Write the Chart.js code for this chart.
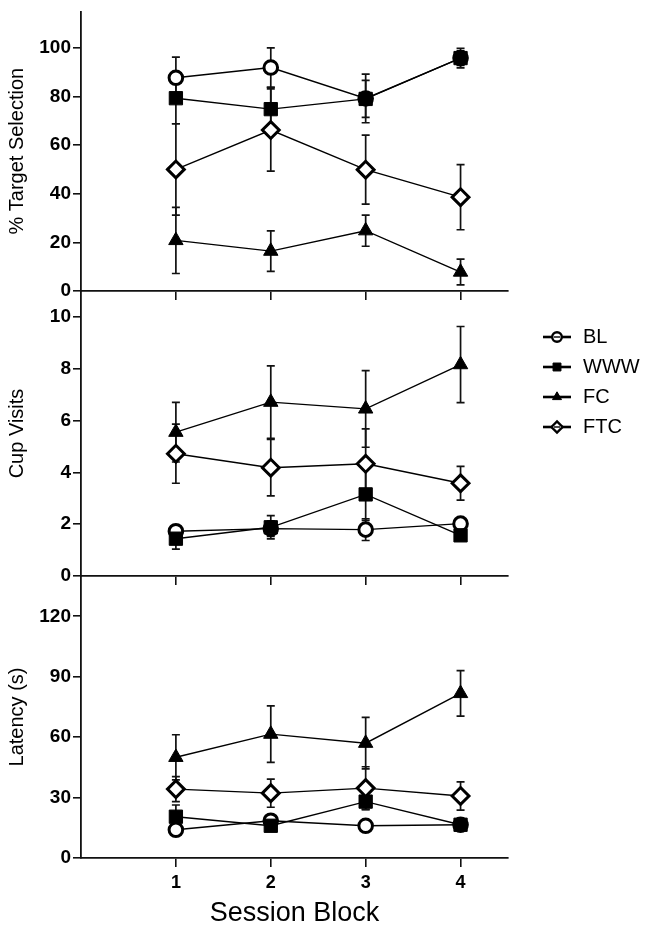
<!DOCTYPE html>
<html><head><meta charset="utf-8">
<script src="https://cdn.jsdelivr.net/npm/chart.js@4.4.1/dist/chart.umd.min.js"></script>
<style>
html,body{margin:0;padding:0;background:#fff;}
#wrap{position:relative;width:658px;height:932px;overflow:hidden;}
canvas{position:absolute;left:0;top:0;}
</style></head><body>
<div id="wrap">
<canvas id="c1" width="658" height="932"></canvas>
<canvas id="c2" width="658" height="932"></canvas>
<canvas id="c3" width="658" height="932"></canvas>
</div>
<script>
// ---------- DATA ----------
const categories = [1, 2, 3, 4];
const seriesNames = ['BL', 'WWW', 'FC', 'FTC'];
const xTickLabels = ['1', '2', '3', '4'];

// % Target Selection
const selBL = [87.7, 91.9, 79.2, 95.8];
const selBLErr = [8.5, 8.1, 10.0, 4.0];
const selWWW = [79.3, 74.8, 79.0, 95.8];
const selWWWErr = [10.5, 9.0, 7.6, 3.0];
const selFC = [20.8, 16.4, 24.8, 7.8];
const selFCErr = [13.6, 8.3, 6.4, 5.3];
const selFTC = [50.0, 66.2, 49.9, 38.6];
const selFTCErr = [18.8, 16.9, 14.2, 13.4];
const selTicks = [0, 20, 40, 60, 80, 100];

// Cup Visits
const cupBL = [1.73, 1.83, 1.79, 2.02];
const cupBLErr = [0.15, 0.3, 0.42, 0.15];
const cupWWW = [1.44, 1.88, 3.15, 1.57];
const cupWWWErr = [0.4, 0.45, 1.0, 0.15];
const cupFC = [5.55, 6.71, 6.45, 8.16];
const cupFCErr = [1.15, 1.4, 1.48, 1.47];
const cupFTC = [4.72, 4.18, 4.33, 3.58];
const cupFTCErr = [1.14, 1.09, 1.35, 0.65];
const cupTicks = [0, 2, 4, 6, 8, 10];

// Latency (s)
const latBL = [14.0, 18.5, 16.0, 16.5];
const latBLErr = [2.0, 2.0, 2.0, 1.5];
const latWWW = [20.5, 16.0, 28.0, 16.5];
const latWWWErr = [5.8, 2.0, 4.0, 2.0];
const latFC = [50.0, 61.5, 57.0, 81.7];
const latFCErr = [11.2, 14.0, 12.8, 11.3];
const latFTC = [34.2, 32.2, 34.7, 30.8];
const latFTCErr = [6.2, 7.0, 10.6, 7.0];
const latTicks = [0, 30, 60, 90, 120];

// ---------- STYLES ----------
const FONT = "'Liberation Sans', Arial, Helvetica, sans-serif";
const INK = '#111';
const styles = [
  {pointStyle: 'circle', radius: 6.8, bg: '#fff', bw: 3, order: 4, lr: 4.8},
  {pointStyle: 'rect', radius: 9.4, bg: '#000', bw: 1, order: 3, lr: 5.6},
  {pointStyle: 'triangle', radius: 8.3, bg: '#000', bw: 1, order: 2, lr: 5.2},
  {pointStyle: 'rectRot', radius: 8.4, bg: '#fff', bw: 3, order: 1, lr: 5.6}
];

function makeDatasets(vals, errs) {
  return vals.map((arr, s) => ({
    label: seriesNames[s],
    data: arr.map((v, i) => ({x: categories[i], y: v})),
    errors: errs[s],
    borderColor: '#000',
    borderWidth: 1.4,
    pointStyle: styles[s].pointStyle,
    pointRadius: styles[s].radius,
    pointHoverRadius: styles[s].radius,
    pointBackgroundColor: styles[s].bg,
    pointBorderColor: '#000',
    pointBorderWidth: styles[s].bw,
    legendRadius: styles[s].lr,
    order: styles[s].order,
    fill: false,
    tension: 0
  }));
}

const errorBars = {
  id: 'errorBars',
  beforeDatasetsDraw(chart) {
    const ctx = chart.ctx;
    const xs = chart.scales.x, ys = chart.scales.y;
    ctx.save();
    ctx.strokeStyle = INK;
    ctx.lineWidth = 1.7;
    chart.data.datasets.forEach(ds => {
      ds.data.forEach((p, i) => {
        const e = ds.errors[i];
        const x = xs.getPixelForValue(p.x);
        const yt = ys.getPixelForValue(p.y + e);
        const yb = ys.getPixelForValue(p.y - e);
        ctx.beginPath();
        ctx.moveTo(x, yt); ctx.lineTo(x, yb);
        ctx.moveTo(x - 4, yt); ctx.lineTo(x + 4, yt);
        ctx.moveTo(x - 4, yb); ctx.lineTo(x + 4, yb);
        ctx.stroke();
      });
    });
    ctx.restore();
  }
};

const sideLegend = {
  id: 'sideLegend',
  afterDraw(chart) {
    if (!chart.options.plugins.sideLegend || !chart.options.plugins.sideLegend.show) return;
    const ctx = chart.ctx;
    const x0 = 543, x1 = 571, xm = 557, tx = 583, y0 = 337, dy = 30;
    const dsets = chart.data.datasets;
    ctx.save();
    dsets.forEach((ds, i) => {
      const y = y0 + i * dy;
      ctx.strokeStyle = '#000';
      ctx.lineWidth = 2.6;
      ctx.beginPath(); ctx.moveTo(x0, y); ctx.lineTo(x1, y); ctx.stroke();
      ctx.fillStyle = ds.pointBackgroundColor;
      ctx.strokeStyle = '#000';
      ctx.lineWidth = ds.pointBorderWidth > 1 ? 2.4 : 1;
      Chart.helpers.drawPoint(ctx, {pointStyle: ds.pointStyle, radius: ds.legendRadius, rotation: 0, borderWidth: ctx.lineWidth}, xm, y);
      if (ds.pointStyle === 'circle' || ds.pointStyle === 'rectRot') {
        ctx.lineWidth = 1.4;
        ctx.beginPath(); ctx.moveTo(xm - 3, y); ctx.lineTo(xm + 3, y); ctx.stroke();
      }
      ctx.fillStyle = '#000';
      ctx.font = '20px ' + FONT;
      ctx.textBaseline = 'middle';
      ctx.textAlign = 'left';
      ctx.fillText(ds.label, tx, y + 0.5);
    });
    ctx.restore();
  }
};

function makeChart(id, cfg) {
  return new Chart(document.getElementById(id), {
    type: 'line',
    data: {datasets: makeDatasets(cfg.vals, cfg.errs)},
    plugins: [errorBars, sideLegend],
    options: {
      responsive: false,
      animation: false,
      devicePixelRatio: 1,
      events: [],
      layout: {padding: {left: 0, right: 150, top: cfg.top, bottom: cfg.bottom}},
      plugins: {
        legend: {display: false},
        tooltip: {enabled: false},
        sideLegend: {show: !!cfg.legend}
      },
      scales: {
        x: {
          type: 'linear',
          min: 0, max: 4.5,
          afterBuildTicks: s => { s.ticks = categories.map(v => ({value: v})); },
          afterFit: s => { s.height = cfg.xHeight; s.paddingLeft = 0; s.paddingRight = 0; },
          ticks: {
            color: cfg.xLabels ? '#000' : 'rgba(0,0,0,0)',
            font: {family: FONT, size: 18, weight: 'bold'},
            padding: 5,
            maxRotation: 0,
            autoSkip: false,
            callback: (v) => xTickLabels[categories.indexOf(v)]
          },
          grid: {display: true, drawOnChartArea: false, drawTicks: true, tickLength: 9, color: INK, lineWidth: 1.6},
          border: {display: true, color: INK, width: 1.8},
          title: cfg.xLabels ? {display: true, text: 'Session Block', color: '#000',
            font: {family: FONT, size: 27}, padding: {top: 0, bottom: 2}} : {display: false}
        },
        y: {
          type: 'linear',
          min: 0, max: cfg.yMax,
          afterBuildTicks: s => { s.ticks = cfg.yTicks.map(v => ({value: v})); },
          afterFit: s => { s.width = 81; s.paddingTop = 0; s.paddingBottom = 0; },
          ticks: {color: '#000', font: {family: FONT, size: 19, weight: 'bold'}, padding: 2},
          grid: {display: true, drawOnChartArea: false, drawTicks: true, tickLength: 8, color: INK, lineWidth: 1.6},
          border: {display: true, color: INK, width: 1.8},
          title: {display: true, text: cfg.yTitle, color: '#000', font: {family: FONT, size: 20}, padding: {top: 5, bottom: 0}}
        }
      }
    }
  });
}

makeChart('c1', {
  vals: [selBL, selWWW, selFC, selFTC], errs: [selBLErr, selWWWErr, selFCErr, selFTCErr],
  yMax: 115, yTicks: selTicks, yTitle: '% Target Selection',
  top: 5, bottom: 932 - 291 - 10, xHeight: 10, xLabels: false
});
makeChart('c2', {
  vals: [cupBL, cupWWW, cupFC, cupFTC], errs: [cupBLErr, cupWWWErr, cupFCErr, cupFTCErr],
  yMax: 11, yTicks: cupTicks, yTitle: 'Cup Visits',
  top: 291, bottom: 932 - 576 - 10, xHeight: 10, xLabels: false, legend: true
});
makeChart('c3', {
  vals: [latBL, latWWW, latFC, latFTC], errs: [latBLErr, latWWWErr, latFCErr, latFTCErr],
  yMax: 140, yTicks: latTicks, yTitle: 'Latency (s)',
  top: 576, bottom: 0, xHeight: 932 - 858, xLabels: true
});
</script>
</body></html>
